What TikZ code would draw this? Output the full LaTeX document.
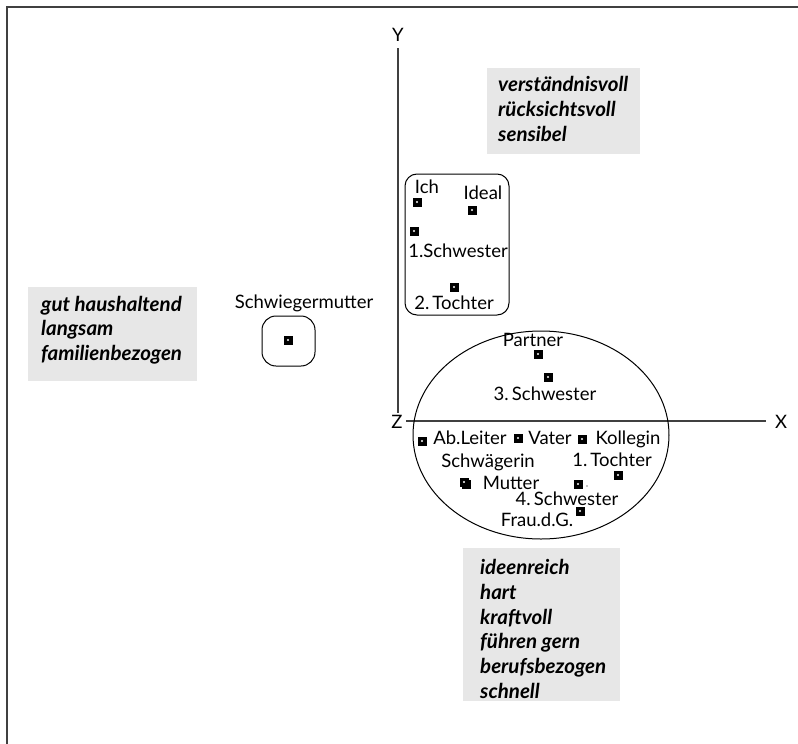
\documentclass[tikz,border=0pt]{standalone}
\usepackage{fontspec}
\setmainfont{Lato}
\definecolor{boxgray}{gray}{0.905}
\definecolor{linegray}{gray}{0.25}
\begin{document}
\begin{tikzpicture}[x=1pt,y=-1pt,
  lbl/.style={font=\fontsize{18.5}{20}\selectfont, inner sep=0pt},
  adj/.style={font=\fontsize{20.5}{24.7}\selectfont\bfseries\itshape, align=left, inner sep=0pt, anchor=west},
  pt/.style={fill=black, minimum size=9pt, inner sep=0pt, draw=none,
    path picture={\fill[white] (path picture bounding box.center) circle (1.1pt);}},
  frameline/.style={linegray, line width=2pt},
  axisline/.style={linegray, line width=1.3pt},
  group/.style={draw=black, line width=1pt}]
\useasboundingbox (0,0) rectangle (798,744);
% frame (top and left edges only)
\draw[frameline] (7,744) -- (7,7) -- (798,7);

% axes
\node[lbl] (Y) at (398,35) {Y};
\node[lbl] (Z) at (397,422) {Z};
\node[lbl] (X) at (781,422) {X};
\coordinate (ytop) at (398,48);
\coordinate (ybot) at (398,413);
\coordinate (xleft) at (406,421);
\coordinate (xright) at (766,421);
\draw[axisline] (ytop) -- (ybot);
\draw[axisline] (xleft) -- (xright);

% gray boxes
\fill[boxgray] (487,68) rectangle (640,154);
\node[adj] (topbox) at (498,109) {verständnisvoll\\rücksichtsvoll\\sensibel};
\fill[boxgray] (28,287) rectangle (197,381);
\node[adj] (leftbox) at (41,330) {gut haushaltend\\langsam\\familienbezogen};
\fill[boxgray] (463,548) rectangle (620,701);
\node[adj] (botbox) at (480,629) {ideenreich\\hart\\kraftvoll\\führen gern\\berufsbezogen\\schnell};

% group 1 (rounded rectangle)
\draw[group, rounded corners=12pt] (405,174) rectangle (509,315);
\node[lbl] (ich) at (427,187) {Ich};
\node[pt] (pich) at (417,202) {};
\node[lbl] (ideal) at (483,193) {Ideal};
\node[pt] (pideal) at (472,210) {};
\node[pt] (pschw1) at (414,231) {};
\node[lbl] (schw1) at (458,251) {1.Schwester};
\node[pt] (ptoch2) at (454,287) {};
\node[lbl] (toch2) at (454,303) {2.\,Tochter};

% Schwiegermutter
\node[lbl] (swm) at (304,303) {Schwiegermutter};
\draw[group, rounded corners=14pt] (262,316) rectangle (315,366);
\node[pt] (pswm) at (288,340) {};

% ellipse group
\draw[group] (541,435) ellipse (128pt and 104pt);
\node[lbl] (partner) at (533,340) {Partner};
\node[pt] (ppartner) at (538,354) {};
\node[pt] (pschw3) at (548,377) {};
\node[lbl] (schw3) at (545,394) {3.\,Schwester};
\node[pt] (pab) at (422,441) {};
\node[lbl] (ab) at (470,438) {Ab.Leiter};
\node[pt] (pvater) at (518,438) {};
\node[lbl] (vater) at (550,438) {Vater};
\node[pt] (pkoll) at (582,439) {};
\node[lbl] (koll) at (628,439) {Kollegin};
\node[lbl] (schwag) at (488,462) {Schwägerin};
\node[lbl] (toch1) at (612,460) {1.\,Tochter};
\node[pt] (ptoch1) at (618,475) {};
\draw[line width=1.2pt] (470,480) -- (470,488) -- (462,488);
\node[pt] (pmutter) at (464,482) {};
\node[lbl] (mutter) at (511,483) {Mutter};
\node[pt] (pschw4) at (578,484) {};
\fill (587,486) circle (0.7pt);
\node[lbl] (schw4) at (567,499) {4.\,Schwester};
\node[pt] (pfrau) at (580,511) {};
\node[lbl] (frau) at (537,520) {Frau.d.G.};
\end{tikzpicture}
\end{document}
